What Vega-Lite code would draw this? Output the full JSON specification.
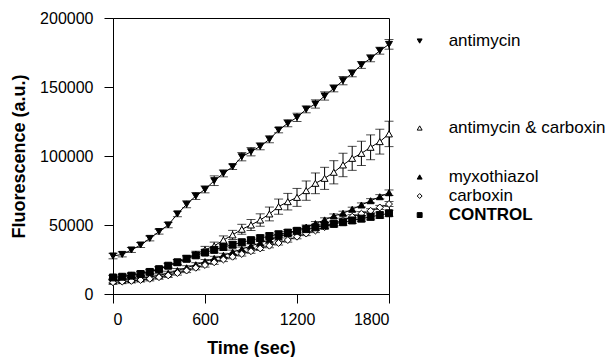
{
  "$schema": "https://vega.github.io/schema/vega-lite/v6.json",
  "width": 276,
  "height": 276,
  "autosize": {"type": "none"},
  "padding": {"left": 113, "top": 18, "right": 217, "bottom": 63},
  "config": {
    "font": "Liberation Sans",
    "view": {"stroke": "black", "strokeWidth": 1},
    "axis": {
      "grid": false,
      "domainColor": "black",
      "tickColor": "black",
      "tickSize": 9,
      "labelColor": "black",
      "titleColor": "black",
      "labelFont": "Liberation Sans",
      "titleFont": "Liberation Sans",
      "labelFontSize": 16,
      "titleFontSize": 18,
      "titleFontWeight": "bold",
      "labelPadding": 8
    }
  },
  "datasets": {
    "series": [
      {"s": "antimycin", "t": 0, "v": 27500, "e": 2000},
      {"s": "antimycin", "t": 60, "v": 28700, "e": 1800},
      {"s": "antimycin", "t": 120, "v": 31900, "e": 1800},
      {"s": "antimycin", "t": 180, "v": 35500, "e": 1800},
      {"s": "antimycin", "t": 240, "v": 40300, "e": 1800},
      {"s": "antimycin", "t": 300, "v": 45200, "e": 1800},
      {"s": "antimycin", "t": 360, "v": 50000, "e": 2000},
      {"s": "antimycin", "t": 420, "v": 58000, "e": 2000},
      {"s": "antimycin", "t": 480, "v": 65000, "e": 2500},
      {"s": "antimycin", "t": 540, "v": 71000, "e": 2500},
      {"s": "antimycin", "t": 600, "v": 75800, "e": 2500},
      {"s": "antimycin", "t": 660, "v": 82100, "e": 3500},
      {"s": "antimycin", "t": 720, "v": 87400, "e": 2500},
      {"s": "antimycin", "t": 780, "v": 92200, "e": 2000},
      {"s": "antimycin", "t": 840, "v": 99500, "e": 3000},
      {"s": "antimycin", "t": 900, "v": 103100, "e": 3000},
      {"s": "antimycin", "t": 960, "v": 107000, "e": 2500},
      {"s": "antimycin", "t": 1020, "v": 112100, "e": 2500},
      {"s": "antimycin", "t": 1080, "v": 118800, "e": 2000},
      {"s": "antimycin", "t": 1140, "v": 123700, "e": 2500},
      {"s": "antimycin", "t": 1200, "v": 128000, "e": 3000},
      {"s": "antimycin", "t": 1260, "v": 133800, "e": 2500},
      {"s": "antimycin", "t": 1320, "v": 137700, "e": 3000},
      {"s": "antimycin", "t": 1380, "v": 143500, "e": 3000},
      {"s": "antimycin", "t": 1440, "v": 149000, "e": 2500},
      {"s": "antimycin", "t": 1500, "v": 154600, "e": 3000},
      {"s": "antimycin", "t": 1560, "v": 159900, "e": 2500},
      {"s": "antimycin", "t": 1620, "v": 166000, "e": 2500},
      {"s": "antimycin", "t": 1680, "v": 170800, "e": 2500},
      {"s": "antimycin", "t": 1740, "v": 176300, "e": 2500},
      {"s": "antimycin", "t": 1800, "v": 180900, "e": 3500},

      {"s": "antimycin & carboxin", "t": 0, "v": 12000, "e": 1500},
      {"s": "antimycin & carboxin", "t": 60, "v": 12800, "e": 1500},
      {"s": "antimycin & carboxin", "t": 120, "v": 13800, "e": 1500},
      {"s": "antimycin & carboxin", "t": 180, "v": 15000, "e": 1500},
      {"s": "antimycin & carboxin", "t": 240, "v": 16500, "e": 1500},
      {"s": "antimycin & carboxin", "t": 300, "v": 18200, "e": 1500},
      {"s": "antimycin & carboxin", "t": 360, "v": 20500, "e": 1800},
      {"s": "antimycin & carboxin", "t": 420, "v": 23000, "e": 1800},
      {"s": "antimycin & carboxin", "t": 480, "v": 26000, "e": 2000},
      {"s": "antimycin & carboxin", "t": 540, "v": 29000, "e": 2000},
      {"s": "antimycin & carboxin", "t": 600, "v": 32000, "e": 2500},
      {"s": "antimycin & carboxin", "t": 660, "v": 34800, "e": 2800},
      {"s": "antimycin & carboxin", "t": 720, "v": 39100, "e": 3000},
      {"s": "antimycin & carboxin", "t": 780, "v": 42800, "e": 3300},
      {"s": "antimycin & carboxin", "t": 840, "v": 46900, "e": 3600},
      {"s": "antimycin & carboxin", "t": 900, "v": 50000, "e": 4000},
      {"s": "antimycin & carboxin", "t": 960, "v": 53600, "e": 4500},
      {"s": "antimycin & carboxin", "t": 1020, "v": 58000, "e": 5000},
      {"s": "antimycin & carboxin", "t": 1080, "v": 63300, "e": 5500},
      {"s": "antimycin & carboxin", "t": 1140, "v": 66900, "e": 6000},
      {"s": "antimycin & carboxin", "t": 1200, "v": 70000, "e": 6500},
      {"s": "antimycin & carboxin", "t": 1260, "v": 74900, "e": 7000},
      {"s": "antimycin & carboxin", "t": 1320, "v": 80200, "e": 7500},
      {"s": "antimycin & carboxin", "t": 1380, "v": 83800, "e": 8000},
      {"s": "antimycin & carboxin", "t": 1440, "v": 88200, "e": 8400},
      {"s": "antimycin & carboxin", "t": 1500, "v": 93500, "e": 8500},
      {"s": "antimycin & carboxin", "t": 1560, "v": 98300, "e": 8700},
      {"s": "antimycin & carboxin", "t": 1620, "v": 101900, "e": 8800},
      {"s": "antimycin & carboxin", "t": 1680, "v": 106300, "e": 9000},
      {"s": "antimycin & carboxin", "t": 1740, "v": 110400, "e": 9000},
      {"s": "antimycin & carboxin", "t": 1800, "v": 116000, "e": 9200},

      {"s": "myxothiazol", "t": 0, "v": 9500, "e": 1500},
      {"s": "myxothiazol", "t": 60, "v": 10000, "e": 1500},
      {"s": "myxothiazol", "t": 120, "v": 10500, "e": 1500},
      {"s": "myxothiazol", "t": 180, "v": 11300, "e": 1500},
      {"s": "myxothiazol", "t": 240, "v": 12300, "e": 1500},
      {"s": "myxothiazol", "t": 300, "v": 13500, "e": 1500},
      {"s": "myxothiazol", "t": 360, "v": 15000, "e": 1500},
      {"s": "myxothiazol", "t": 420, "v": 17000, "e": 1500},
      {"s": "myxothiazol", "t": 480, "v": 19000, "e": 1500},
      {"s": "myxothiazol", "t": 540, "v": 21200, "e": 1500},
      {"s": "myxothiazol", "t": 600, "v": 23500, "e": 1500},
      {"s": "myxothiazol", "t": 660, "v": 25800, "e": 1500},
      {"s": "myxothiazol", "t": 720, "v": 28000, "e": 1500},
      {"s": "myxothiazol", "t": 780, "v": 30300, "e": 1500},
      {"s": "myxothiazol", "t": 840, "v": 32500, "e": 1500},
      {"s": "myxothiazol", "t": 900, "v": 34800, "e": 1500},
      {"s": "myxothiazol", "t": 960, "v": 37000, "e": 1500},
      {"s": "myxothiazol", "t": 1020, "v": 39300, "e": 1500},
      {"s": "myxothiazol", "t": 1080, "v": 41500, "e": 1500},
      {"s": "myxothiazol", "t": 1140, "v": 43800, "e": 1500},
      {"s": "myxothiazol", "t": 1200, "v": 46000, "e": 1500},
      {"s": "myxothiazol", "t": 1260, "v": 48500, "e": 1500},
      {"s": "myxothiazol", "t": 1320, "v": 51000, "e": 1500},
      {"s": "myxothiazol", "t": 1380, "v": 53700, "e": 1500},
      {"s": "myxothiazol", "t": 1440, "v": 56500, "e": 1500},
      {"s": "myxothiazol", "t": 1500, "v": 58500, "e": 1500},
      {"s": "myxothiazol", "t": 1560, "v": 61400, "e": 1500},
      {"s": "myxothiazol", "t": 1620, "v": 64500, "e": 1500},
      {"s": "myxothiazol", "t": 1680, "v": 67600, "e": 1500},
      {"s": "myxothiazol", "t": 1740, "v": 70500, "e": 1500},
      {"s": "myxothiazol", "t": 1800, "v": 73400, "e": 2000},

      {"s": "carboxin", "t": 0, "v": 8500, "e": 1500},
      {"s": "carboxin", "t": 60, "v": 9000, "e": 1500},
      {"s": "carboxin", "t": 120, "v": 9500, "e": 1500},
      {"s": "carboxin", "t": 180, "v": 10200, "e": 1500},
      {"s": "carboxin", "t": 240, "v": 11000, "e": 1500},
      {"s": "carboxin", "t": 300, "v": 12200, "e": 1500},
      {"s": "carboxin", "t": 360, "v": 13500, "e": 1500},
      {"s": "carboxin", "t": 420, "v": 15200, "e": 1500},
      {"s": "carboxin", "t": 480, "v": 17000, "e": 1500},
      {"s": "carboxin", "t": 540, "v": 19000, "e": 1500},
      {"s": "carboxin", "t": 600, "v": 21000, "e": 1500},
      {"s": "carboxin", "t": 660, "v": 23000, "e": 1500},
      {"s": "carboxin", "t": 720, "v": 25000, "e": 1500},
      {"s": "carboxin", "t": 780, "v": 27000, "e": 1500},
      {"s": "carboxin", "t": 840, "v": 29000, "e": 1500},
      {"s": "carboxin", "t": 900, "v": 31000, "e": 1500},
      {"s": "carboxin", "t": 960, "v": 33000, "e": 1500},
      {"s": "carboxin", "t": 1020, "v": 35000, "e": 1500},
      {"s": "carboxin", "t": 1080, "v": 37000, "e": 1500},
      {"s": "carboxin", "t": 1140, "v": 39100, "e": 1500},
      {"s": "carboxin", "t": 1200, "v": 41500, "e": 1500},
      {"s": "carboxin", "t": 1260, "v": 43800, "e": 1500},
      {"s": "carboxin", "t": 1320, "v": 46000, "e": 1500},
      {"s": "carboxin", "t": 1380, "v": 48500, "e": 1500},
      {"s": "carboxin", "t": 1440, "v": 51000, "e": 1500},
      {"s": "carboxin", "t": 1500, "v": 53500, "e": 1500},
      {"s": "carboxin", "t": 1560, "v": 56000, "e": 1500},
      {"s": "carboxin", "t": 1620, "v": 58200, "e": 1500},
      {"s": "carboxin", "t": 1680, "v": 60300, "e": 1500},
      {"s": "carboxin", "t": 1740, "v": 62700, "e": 1500},
      {"s": "carboxin", "t": 1800, "v": 65200, "e": 1800},

      {"s": "CONTROL", "t": 0, "v": 12000, "e": 1500},
      {"s": "CONTROL", "t": 60, "v": 12500, "e": 1500},
      {"s": "CONTROL", "t": 120, "v": 13300, "e": 1500},
      {"s": "CONTROL", "t": 180, "v": 14500, "e": 1500},
      {"s": "CONTROL", "t": 240, "v": 16000, "e": 1500},
      {"s": "CONTROL", "t": 300, "v": 18000, "e": 1800},
      {"s": "CONTROL", "t": 360, "v": 20500, "e": 1800},
      {"s": "CONTROL", "t": 420, "v": 23000, "e": 2000},
      {"s": "CONTROL", "t": 480, "v": 25500, "e": 2000},
      {"s": "CONTROL", "t": 540, "v": 28000, "e": 2000},
      {"s": "CONTROL", "t": 600, "v": 30000, "e": 2000},
      {"s": "CONTROL", "t": 660, "v": 32000, "e": 2200},
      {"s": "CONTROL", "t": 720, "v": 34000, "e": 2200},
      {"s": "CONTROL", "t": 780, "v": 35700, "e": 2200},
      {"s": "CONTROL", "t": 840, "v": 37500, "e": 2200},
      {"s": "CONTROL", "t": 900, "v": 39000, "e": 2200},
      {"s": "CONTROL", "t": 960, "v": 40500, "e": 2200},
      {"s": "CONTROL", "t": 1020, "v": 42000, "e": 2200},
      {"s": "CONTROL", "t": 1080, "v": 43300, "e": 2200},
      {"s": "CONTROL", "t": 1140, "v": 44500, "e": 2200},
      {"s": "CONTROL", "t": 1200, "v": 45800, "e": 2200},
      {"s": "CONTROL", "t": 1260, "v": 47000, "e": 2200},
      {"s": "CONTROL", "t": 1320, "v": 48300, "e": 2200},
      {"s": "CONTROL", "t": 1380, "v": 49600, "e": 2200},
      {"s": "CONTROL", "t": 1440, "v": 50800, "e": 2200},
      {"s": "CONTROL", "t": 1500, "v": 52000, "e": 2200},
      {"s": "CONTROL", "t": 1560, "v": 53300, "e": 2200},
      {"s": "CONTROL", "t": 1620, "v": 54600, "e": 2200},
      {"s": "CONTROL", "t": 1680, "v": 55900, "e": 2200},
      {"s": "CONTROL", "t": 1740, "v": 57200, "e": 2200},
      {"s": "CONTROL", "t": 1800, "v": 58500, "e": 2200}
    ],
    "legend": [
      {"s": "antimycin", "v": 183300},
      {"s": "antimycin & carboxin", "v": 120300},
      {"s": "myxothiazol", "v": 84800},
      {"s": "carboxin", "v": 71000},
      {"s": "CONTROL", "v": 57200}
    ]
  },
  "layer": [
    {
      "data": {"name": "series"},
      "mark": {"type": "line", "color": "black", "strokeWidth": 1},
      "encoding": {
        "x": {"field": "t", "type": "quantitative", "title": "Time (sec)", "scale": {"domain": [0, 1800], "nice": false, "zero": false},
              "axis": {"values": [0, 600, 1200, 1800], "format": "d", "titlePadding": 12}},
        "y": {"field": "v", "type": "quantitative", "title": "Fluorescence (a.u.)", "scale": {"domain": [0, 200000], "nice": false},
              "axis": {"values": [0, 50000, 100000, 150000, 200000], "format": "d", "labelPadding": 11, "titlePadding": 11}},
        "detail": {"field": "s"}
      }
    },
    {
      "data": {"name": "series"},
      "mark": {"type": "errorbar", "ticks": {"size": 9, "color": "black"}, "rule": {"color": "black", "strokeWidth": 1}},
      "encoding": {
        "x": {"field": "t", "type": "quantitative", "title": "Time (sec)"},
        "y": {"field": "v", "type": "quantitative", "title": "Fluorescence (a.u.)"},
        "yError": {"field": "e"},
        "detail": {"field": "s"}
      }
    },
    {
      "data": {"name": "series"},
      "mark": {"type": "point", "stroke": "black", "strokeWidth": 1, "opacity": 1, "size": 48},
      "encoding": {
        "x": {"field": "t", "type": "quantitative", "title": "Time (sec)"},
        "y": {"field": "v", "type": "quantitative", "title": "Fluorescence (a.u.)"},
        "shape": {"field": "s", "type": "nominal", "legend": null,
                  "scale": {"domain": ["antimycin", "antimycin & carboxin", "myxothiazol", "carboxin", "CONTROL"],
                            "range": ["triangle-down", "triangle-up", "triangle-up", "diamond", "square"]}},
        "fill": {"field": "s", "type": "nominal", "legend": null,
                 "scale": {"domain": ["antimycin", "antimycin & carboxin", "myxothiazol", "carboxin", "CONTROL"],
                           "range": ["black", "white", "black", "white", "black"]}}
      }
    },
    {
      "data": {"name": "legend"},
      "mark": {"type": "point", "stroke": "black", "strokeWidth": 1, "opacity": 1, "size": 24},
      "encoding": {
        "x": {"datum": 2000, "type": "quantitative"},
        "y": {"field": "v", "type": "quantitative", "title": "Fluorescence (a.u.)"},
        "shape": {"field": "s", "type": "nominal", "legend": null},
        "fill": {"field": "s", "type": "nominal", "legend": null}
      }
    },
    {
      "data": {"name": "legend"},
      "transform": [{"filter": "datum.s !== 'CONTROL'"}],
      "mark": {"type": "text", "align": "left", "baseline": "middle", "dx": 29, "fontSize": 17, "font": "Liberation Sans", "color": "black"},
      "encoding": {
        "x": {"datum": 2000, "type": "quantitative"},
        "y": {"field": "v", "type": "quantitative", "title": "Fluorescence (a.u.)"},
        "text": {"field": "s"}
      }
    },
    {
      "data": {"name": "legend"},
      "transform": [{"filter": "datum.s === 'CONTROL'"}],
      "mark": {"type": "text", "align": "left", "baseline": "middle", "dx": 29, "fontSize": 17, "fontWeight": "bold", "font": "Liberation Sans", "color": "black"},
      "encoding": {
        "x": {"datum": 2000, "type": "quantitative"},
        "y": {"field": "v", "type": "quantitative", "title": "Fluorescence (a.u.)"},
        "text": {"field": "s"}
      }
    }
  ]
}
